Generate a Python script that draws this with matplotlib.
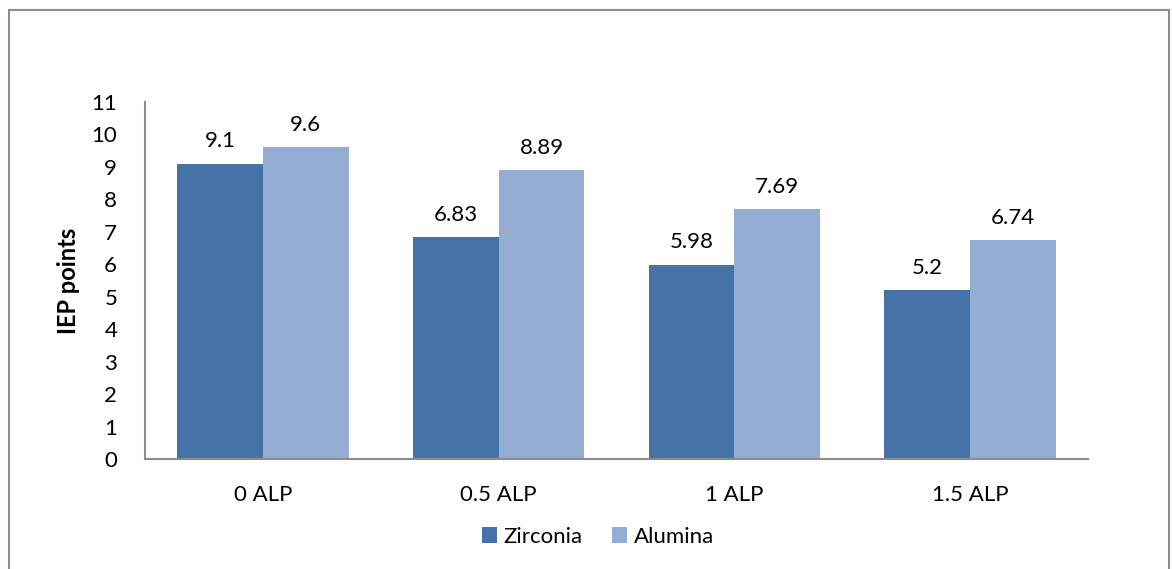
import matplotlib.pyplot as plt
import numpy as np
from matplotlib.patches import Rectangle

categories = ["0 ALP", "0.5 ALP", "1 ALP", "1.5 ALP"]
zirconia = [9.1, 6.83, 5.98, 5.2]
alumina = [9.6, 8.89, 7.69, 6.74]
zirconia_labels = ["9.1", "6.83", "5.98", "5.2"]
alumina_labels = ["9.6", "8.89", "7.69", "6.74"]

plt.rcParams["font.family"] = ["Lato", "DejaVu Sans"]

W, H = 1172, 569
fig = plt.figure(figsize=(W / 100, H / 100), dpi=100)
ax = fig.add_axes([145 / W, 1 - 459 / H, (1088 - 145) / W, (459 - 102) / H])

# chart-area frame
fig.patches.append(Rectangle((8.5 / W, -0.05), (1169 - 8.5) / W, 1.05 - 9.5 / H,
                             transform=fig.transFigure, fill=False,
                             edgecolor="#8c8c8c", linewidth=1.5))

x = np.arange(len(categories))
bw = 0.3636
b1 = ax.bar(x - bw / 2, zirconia, bw, color="#4572A7", label="Zirconia")
b2 = ax.bar(x + bw / 2, alumina, bw, color="#95ACD3", label="Alumina")

for bars, labels in ((b1, zirconia_labels), (b2, alumina_labels)):
    for rect, lab in zip(bars, labels):
        ax.annotate(lab, (rect.get_x() + rect.get_width() / 2, rect.get_height()),
                    xytext=(0, 9), textcoords="offset points",
                    ha="center", va="bottom", fontsize=16)

ax.set_xlim(-0.5, len(categories) - 0.5)
ax.set_ylim(0, 11)
ax.set_yticks(range(0, 12))
ax.set_xticks(x)
ax.set_xticklabels(categories)
ax.tick_params(axis="both", length=0, labelsize=16)
ax.tick_params(axis="y", pad=20)
ax.tick_params(axis="x", pad=19)
ax.set_ylabel("IEP points", fontsize=17, fontweight="bold", labelpad=8)

for s in ("top", "right"):
    ax.spines[s].set_visible(False)
for s in ("left", "bottom"):
    ax.spines[s].set_color("#8c8c8c")
    ax.spines[s].set_linewidth(1.5)

fig.legend(loc="center", bbox_to_anchor=(598 / W, 1 - 537 / H), ncol=2,
           frameon=False, fontsize=16, handlelength=0.7, handleheight=0.7,
           handletextpad=0.3, columnspacing=1.3)

fig.savefig("out.png", dpi=100)
